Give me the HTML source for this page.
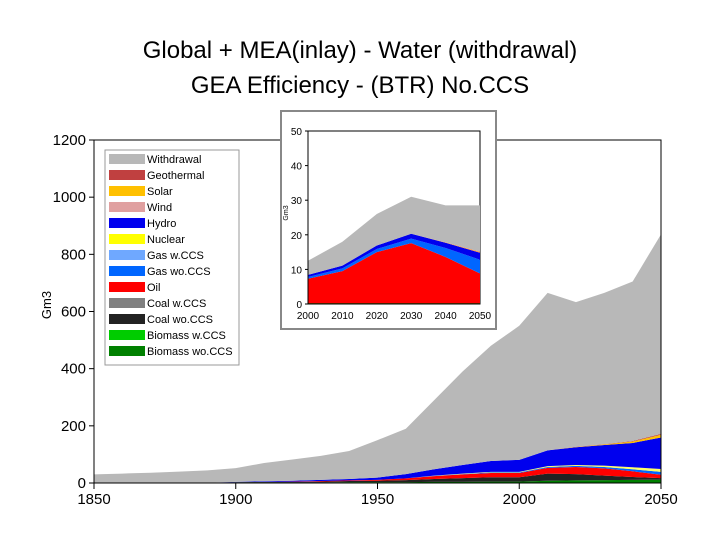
<!DOCTYPE html>
<html><head><meta charset="utf-8"><style>
body{margin:0;background:#fff;font-family:"Liberation Sans",Arial,sans-serif}
svg text{font-family:"Liberation Sans",Arial,sans-serif}
</style></head><body>
<svg id="c" width="720" height="540">
<text x="360" y="58" font-size="24" text-anchor="middle">Global + MEA(inlay) - Water (withdrawal)</text>
<text x="360" y="93" font-size="24" text-anchor="middle">GEA Efficiency - (BTR) No.CCS</text>
<g id="main"></g>
<g id="inlay"></g>
<g id="legend"></g>
</svg>
<script>
const years=[1850,1860,1870,1880,1890,1900,1910,1920,1930,1940,1950,1960,1970,1980,1990,2000,2010,2020,2030,2040,2050];
const totalWithdrawal=[30,33,36,40,44,52,70,82,95,112,150,190,290,390,480,550,665,633,665,705,870];
const biomassWo=[1,1,1,1,1,2,2,2,2,3,3,3,4,4,5,5,8,9,10,11,12];
const coalWo=[0,0,0,0,0,1,2,2,3,4,5,7,10,13,15,15,25,22,16,10,5];
const oil=[0,0,0,0,0,0,0,1,2,2,3,6,10,13,15,15,20,25,25,20,12];
const gasWo=[0,0,0,0,0,0,0,0,0,0,0,0,1,1,2,2,3,4,5,7,10];
const nuclear=[0,0,0,0,0,0,0,0,0,0,0,0,1,2,2,2,3,3,5,7,10];
const hydro=[0,0,0,0,0,1,2,3,4,5,8,15,22,30,38,42,55,62,72,85,110];
const solar=[0,0,0,0,0,0,0,0,0,0,0,0,0,0,0,0,0,1,2,5,10];
const geothermal=[0,0,0,0,0,0,0,0,0,0,0,0,0,0,0,0,0,1,1,2,3];
const xTicks=[1850,1900,1950,2000,2050];
const yTicks=[0,200,400,600,800,1000,1200];

const inYears=[2000,2010,2020,2030,2040,2050];
const inTotal=[12.5,18,26,31,28.5,28.5];
const inCoal=[0.3,0.3,0.3,0.3,0.3,0.3];
const inOil=[7,9.2,14.7,17.3,13.3,8.5];
const inGas=[0.5,0.8,0.9,1.3,2.6,4];
const inHydro=[0.6,0.8,1,1.4,1.5,2];
const inGeo=[0,0,0,0,0.1,0.3];
const inXTicks=[2000,2010,2020,2030,2040,2050];
const inYTicks=[0,10,20,30,40,50];

const NS="http://www.w3.org/2000/svg";
function el(tag,attrs,parent){const e=document.createElementNS(NS,tag);for(const k in attrs)e.setAttribute(k,attrs[k]);parent.appendChild(e);return e;}

const mx=v=>94+(v-1850)*(661-94)/200;
const my=v=>483-v*(483-140)/1200;
const main=document.getElementById('main');
function stack(g,xs,layers,xf,yf){
  let base=xs.map(()=>0);
  layers.forEach((L,i)=>{
    const top=base.map((b,j)=>b+L.vals[j]);
    let d='M'+xs.map((x,j)=>xf(x)+','+yf(top[j])).join(' L');
    for(let j=xs.length-1;j>=0;j--)d+=' L'+xf(xs[j])+','+yf(base[j]);
    const p=el('path',{d:d+'Z',fill:L.c},g);
    
    
    base=top;
  });
}
const sumMain=years.map((_,j)=>biomassWo[j]+coalWo[j]+oil[j]+gasWo[j]+nuclear[j]+hydro[j]+solar[j]+geothermal[j]);
const withdrawal=totalWithdrawal.map((t,j)=>Math.max(0,t-sumMain[j]));
stack(main,years,[
 {vals:biomassWo,c:'#008000',n:'area-biomass-wo-ccs'},
 {vals:coalWo,c:'#222222',n:'area-coal-wo-ccs'},
 {vals:oil,c:'#ff0000',n:'area-oil'},
 {vals:gasWo,c:'#0066ff',n:'area-gas-wo-ccs'},
 {vals:nuclear,c:'#ffff66',n:'area-nuclear'},
 {vals:hydro,c:'#0000ee',n:'area-hydro'},
 {vals:solar,c:'#ffc000',n:'area-solar'},
 {vals:geothermal,c:'#c04040',n:'area-geothermal'},
 {vals:withdrawal,c:'#b8b8b8',n:'area-withdrawal'}],mx,my);
el('path',{d:'M94,140 L661,140 L661,483',fill:'none',stroke:'#000','stroke-width':1},main);
el('line',{x1:94,y1:140,x2:94,y2:483,stroke:'#000'},main);
el('line',{x1:94,y1:483,x2:661,y2:483,stroke:'#000'},main);
yTicks.forEach(v=>{
  el('line',{x1:89,x2:94,y1:my(v),y2:my(v),stroke:'#000'},main);
  const t=el('text',{x:86,y:my(v)+5,'font-size':15,'text-anchor':'end'},main);t.textContent=v;
  
  
});
xTicks.forEach(v=>{
  el('line',{x1:mx(v),x2:mx(v),y1:483,y2:489,stroke:'#000'},main);
  const t=el('text',{x:mx(v),y:504,'font-size':15,'text-anchor':'middle'},main);t.textContent=v;
  
  
});
const yl=el('text',{x:0,y:0,'font-size':13,'text-anchor':'middle',transform:'translate(51,305) rotate(-90)'},main);yl.textContent='Gm3';



const leg=document.getElementById('legend');
el('rect',{x:105,y:150,width:134,height:215,fill:'#fff',stroke:'#999'},leg);
const legItems=[['Withdrawal','#b8b8b8'],['Geothermal','#c04040'],['Solar','#ffc000'],['Wind','#e0a0a0'],['Hydro','#0000ee'],['Nuclear','#ffff00'],['Gas w.CCS','#6fa8ff'],['Gas wo.CCS','#0066ff'],['Oil','#ff0000'],['Coal w.CCS','#808080'],['Coal wo.CCS','#222222'],['Biomass w.CCS','#00cc00'],['Biomass wo.CCS','#008000']];
legItems.forEach((it,i)=>{
  const y=154+i*16;
  const g=el('g',{},leg);
  
  
  el('rect',{x:109,y:y,width:36,height:10,fill:it[1]},g);
  const t=el('text',{x:147,y:y+9,'font-size':11},g);t.textContent=it[0];
});

const ig=document.getElementById('inlay');
el('rect',{x:281,y:111,width:215,height:218,fill:'#fff',stroke:'#888','stroke-width':2},ig);
const ix=v=>308+(v-2000)*(480-308)/50;
const iy=v=>304-v*(304-131)/50;
el('rect',{x:308,y:131,width:172,height:173,fill:'#fff',stroke:'#000'},ig);
const sumIn=inYears.map((_,j)=>inCoal[j]+inOil[j]+inGas[j]+inHydro[j]+inGeo[j]);
const inW=inTotal.map((t,j)=>Math.max(0,t-sumIn[j]));
stack(ig,inYears,[
 {vals:inCoal,c:'#804000',n:'inlay-area-coal'},
 {vals:inOil,c:'#ff0000',n:'inlay-area-oil'},
 {vals:inGas,c:'#0066ff',n:'inlay-area-gas-wo-ccs'},
 {vals:inHydro,c:'#0000ee',n:'inlay-area-hydro'},
 {vals:inGeo,c:'#ff9040',n:'inlay-area-geothermal'},
 {vals:inW,c:'#b8b8b8',n:'inlay-area-withdrawal'}],ix,iy);
el('line',{x1:308,y1:131,x2:308,y2:304,stroke:'#000'},ig);
el('line',{x1:308,y1:304,x2:480,y2:304,stroke:'#000'},ig);
inYTicks.forEach(v=>{
  el('line',{x1:305,x2:308,y1:iy(v),y2:iy(v),stroke:'#000'},ig);
  const t=el('text',{x:302,y:iy(v)+4,'font-size':10,'text-anchor':'end'},ig);t.textContent=v;
  
  
});
inXTicks.forEach(v=>{
  const t=el('text',{x:ix(v),y:319,'font-size':10,'text-anchor':'middle'},ig);t.textContent=v;
  
  
});
const iyl=el('text',{x:0,y:0,'font-size':7,'text-anchor':'middle',transform:'translate(288,213) rotate(-90)'},ig);iyl.textContent='Gm3';


</script>
</body></html>
